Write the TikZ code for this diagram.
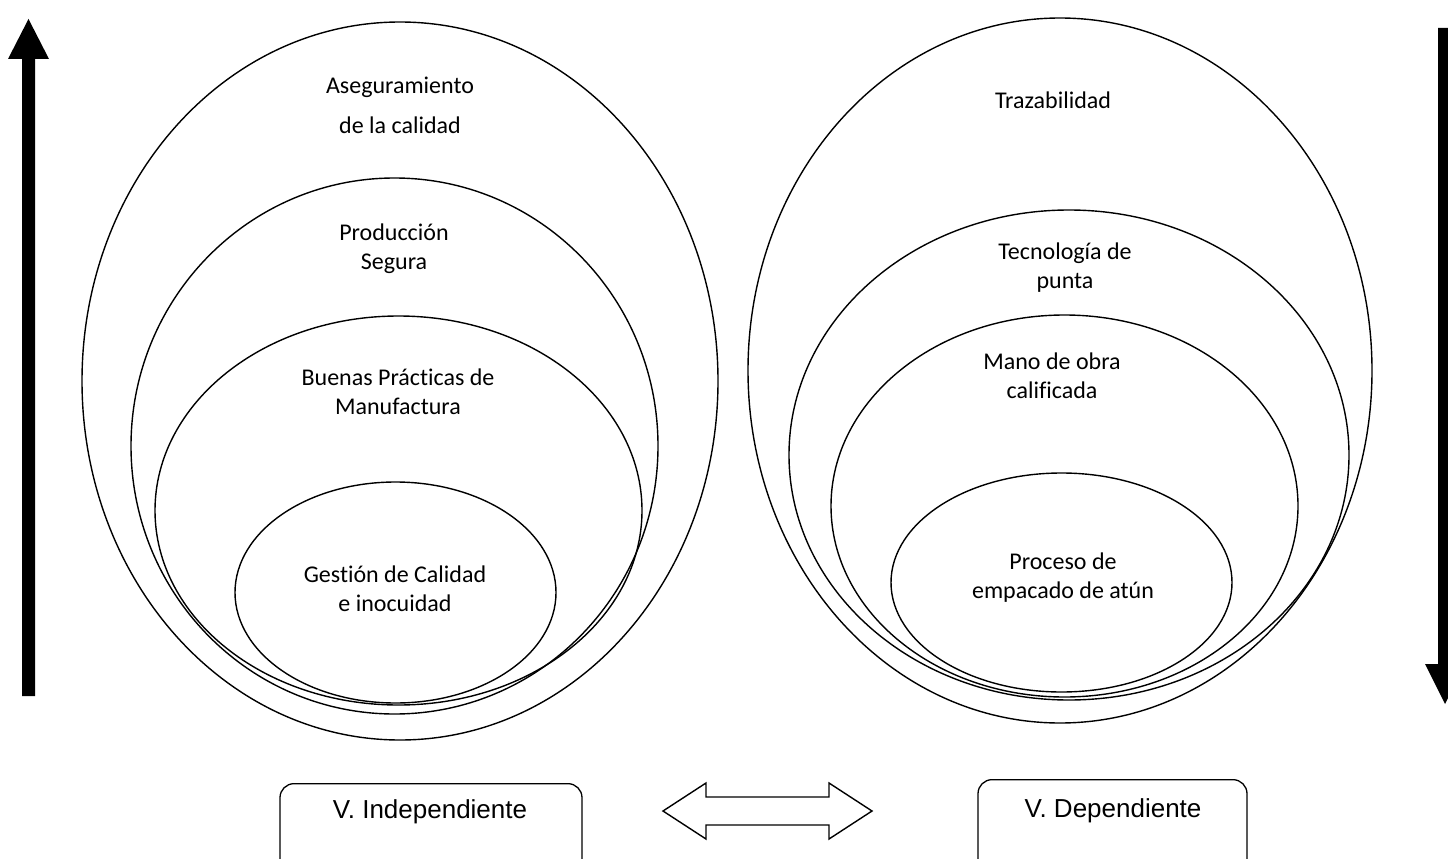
\documentclass[tikz,border=0pt]{standalone}
\usepackage{fontspec}
\setmainfont{Carlito}[Ligatures=NoCommon]
\newfontfamily\arialf{Liberation Sans}
\usetikzlibrary{shapes.geometric}
\tikzset{
  ell/.style={draw=black, line width=1.4pt, ellipse, inner sep=0pt, outer sep=0pt},
  lbl/.style={align=center, font=\fontsize{24}{29}\selectfont, inner sep=0pt},
  varbox/.style={draw=black, line width=1.3pt, rounded corners=14pt, inner sep=0pt, anchor=north},
  boxtxt/.style={font=\arialf\fontsize{26}{30}\selectfont, inner sep=0pt},
  bigarrow/.style={fill=black, draw=none},
  dblarrow/.style={draw=black, line width=1.4pt, fill=white, line join=miter}
}
\begin{document}
\begin{tikzpicture}[x=1pt, y=-1pt]
\useasboundingbox[fill=white] (0,0) rectangle (1448,859);

% left group
\node[ell, minimum width=636pt, minimum height=718pt] (aseg) at (400,381) {};
\node[ell, minimum width=527pt, minimum height=536pt] (prod) at (394.5,446) {};
\node[ell, minimum width=487pt, minimum height=389pt] (bpm) at (398.5,510.5) {};
\node[ell, minimum width=321pt, minimum height=221pt] (gest) at (395.5,592.5) {};

\node[lbl, font=\fontsize{24}{40}\selectfont] (tAseg) at (400,105) {Aseguramiento\\de la calidad};
\node[lbl] (tProd) at (394,249) {Producción\\Segura};
\node[lbl] (tBpm) at (398,391.5) {Buenas Prácticas de\\Manufactura};
\node[lbl] (tGest) at (395,588.5) {Gestión de Calidad\\e inocuidad};

% right group
\node[ell, minimum width=624pt, minimum height=705pt] (traz) at (1060,370.5) {};
\node[ell, minimum width=560pt, minimum height=490pt] (tec) at (1069,455) {};
\node[ell, minimum width=467pt, minimum height=382pt] (mano) at (1064.5,506) {};
\node[ell, minimum width=341pt, minimum height=219pt] (proc) at (1061.5,582.5) {};

\node[lbl] (tTraz) at (1053,100) {Trazabilidad};
\node[lbl] (tTec) at (1065,267.5) {Tecnología de\\punta};
\node[lbl] (tMano) at (1052,375.5) {Mano de obra\\calificada};
\node[lbl] (tProc) at (1063,578) {Proceso de\\empacado de atún};

% big vertical arrows
\path[bigarrow] (22,696) -- (22,59) -- (8,59) -- (28.5,19) -- (49,59) -- (35,59) -- (35,696) -- cycle;
\path[bigarrow] (1438,28) -- (1438,664) -- (1425,664) -- (1445,704) -- (1465,664) -- (1452,664) -- (1452,28) -- cycle;

% double arrow
\draw[dblarrow] (663,811) -- (706,783) -- (706,797) -- (829,797) -- (829,783) -- (872,811)
  -- (829,839) -- (829,825) -- (706,825) -- (706,839) -- cycle;

% variable boxes
\node[varbox, minimum width=302pt, minimum height=110pt] (vind) at (431,783) {};
\node[boxtxt] (tInd) at (430,812) {V. Independiente};
\node[varbox, minimum width=269pt, minimum height=110pt] (vdep) at (1112.5,779) {};
\node[boxtxt] (tDep) at (1113,811) {V. Dependiente};
\end{tikzpicture}
\end{document}
